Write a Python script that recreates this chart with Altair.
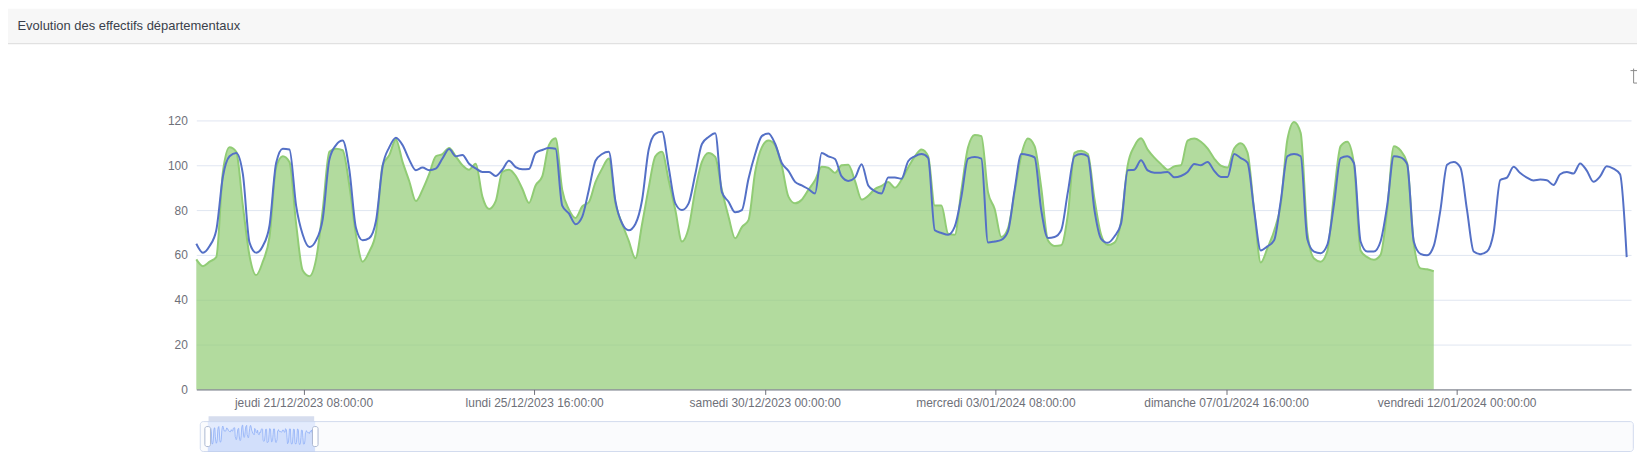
import altair as alt
import pandas as pd

TITLE = "Evolution des effectifs départementaux"
START = "2023-12-19 07:40"   # first sample, then one sample every 3 hours
STEP = "3h"

# Blue series (8 samples per day, 27 days)
blue = [
    65, 61, 64, 71, 95, 104, 105.5, 96,
    65.5, 61, 64, 73, 101, 107.4, 107, 82,
    69, 63.5, 66.5, 76, 102.5, 109, 111, 98,
    72, 66.5, 67.5, 75, 99.5, 108, 112.3, 109,
    102.5, 97.8, 99, 97.8, 98.5, 103, 107.2, 104,
    104.6, 100.7, 98.6, 97, 97, 95.2, 98, 102,
    99.2, 98.2, 98.3, 105.5, 106.8, 107.7, 107.4, 82,
    78.5, 73.7, 77, 89, 102, 105, 106, 84,
    74, 71, 73.8, 84.4, 107, 114, 115, 99,
    83, 80, 83, 96, 109.5, 112.6, 114.3, 88,
    83.7, 79, 80, 94, 105, 113, 114.2, 109.6,
    101, 97.5, 92.6, 91, 89.4, 87.4, 105.5, 104,
    102.8, 95, 93, 94.5, 100.5, 91, 88.5, 87.4,
    94.5, 94.5, 94, 101.8, 104, 105, 103.3, 71,
    69.8, 69, 72.6, 86, 103, 103.7, 103, 65.5,
    66, 66.7, 70.5, 89, 105, 104.6, 103.5, 80,
    67.6, 68, 71, 88, 104, 105, 104, 80,
    67.2, 65.4, 68.2, 74, 97.8, 98, 102.2, 97.7,
    96.7, 96.7, 97, 94.6, 95.2, 97, 100.6, 100,
    101.5, 97.5, 94.8, 94.8, 105, 103.2, 101.2, 80,
    62, 63.8, 66.5, 84, 104, 105, 104, 67,
    61.5, 60.8, 64.5, 82.5, 103.2, 104, 101, 66,
    61.5, 61.5, 66, 82, 104, 103.5, 100.5, 66,
    60.5, 59.8, 64, 80, 100.2, 101.4, 99, 80,
    61.5, 60.3, 61.5, 70, 93.4, 94.5, 99.3, 96.5,
    94.5, 93.2, 93.6, 93.3, 91.2, 96, 97, 96.3,
    100.8, 97.6, 92.6, 95, 99.6, 98.5, 96, 59,
]

# Green series (area), stops earlier
green = [
    58, 55, 57, 59, 97, 108, 106, 82,
    59.6, 51, 57, 68, 99, 104, 101.5, 74,
    53, 50.5, 58, 80, 106, 107.4, 106.7, 91,
    69, 57, 61.5, 70, 100, 104.5, 111.5, 101.5,
    93, 84, 89, 96, 104, 105, 107.7, 104,
    100, 98, 100.7, 86, 80.5, 84, 97, 98,
    95.3, 89.5, 83.2, 91, 95, 109, 112, 89,
    80.3, 76.5, 81.6, 83.5, 92.5, 98.5, 103, 83,
    74, 66.3, 58.5, 73.7, 90, 104, 106, 93.3,
    80, 66, 72, 89, 101.5, 105.5, 103.7, 89,
    77, 67.4, 72.4, 75.5, 97, 108, 111, 109,
    99.8, 86, 83, 84.6, 89, 93.3, 99.3, 98.9,
    96.6, 100, 100.2, 93, 84.7, 86.4, 89.4, 90.8,
    92.5, 90, 93.5, 99, 104, 107, 104, 82,
    82, 69.5, 69, 89, 108, 113.5, 113, 88,
    80.5, 68, 71.9, 88, 104.5, 111.9, 108.5, 90,
    66.5, 64, 64.3, 78, 105.5, 106.5, 105, 85,
    69, 64.4, 65.5, 75, 100, 108.5, 112, 107,
    103.4, 100.5, 98, 99.5, 100, 111, 111.9, 110.5,
    107.5, 103, 99.8, 99, 107.5, 109.8, 105.6, 80,
    56.6, 63, 70.7, 82.5, 111.5, 119.3, 114.4, 70,
    58.4, 57, 61.7, 87, 108.5, 110.5, 100.7, 62,
    59, 57.8, 60, 80, 108.5, 106.6, 101, 65,
    54, 53.6, 52.7,
]

y_ticks = [0, 20, 40, 60, 80, 100, 120]
x_ticks = [
    alt.DateTime(year=2023, month=12, date=21, hours=8),
    alt.DateTime(year=2023, month=12, date=25, hours=16),
    alt.DateTime(year=2023, month=12, date=30, hours=0),
    alt.DateTime(year=2024, month=1, date=3, hours=8),
    alt.DateTime(year=2024, month=1, date=7, hours=16),
    alt.DateTime(year=2024, month=1, date=12, hours=0),
]
x_domain = [
    alt.DateTime(year=2023, month=12, date=19, hours=7, minutes=40),
    alt.DateTime(year=2024, month=1, date=15, hours=6, minutes=37),
]

df_blue = pd.DataFrame({"t": pd.date_range(START, periods=len(blue), freq=STEP), "v": blue})
df_green = pd.DataFrame({"t": pd.date_range(START, periods=len(green), freq=STEP), "v": green})
one = pd.DataFrame({"label": [TITLE]})

W, H = 1440, 270
AXIS_C = "#6E7079"
FONT = "Liberation Sans"

label_expr = ("['dimanche','lundi','mardi','mercredi','jeudi','vendredi','samedi'][day(datum.value)]"
              " + ' ' + timeFormat(datum.value, '%d/%m/%Y %H:%M:%S')")

x_enc = alt.X("t:T", scale=alt.Scale(domain=x_domain),
              axis=alt.Axis(values=x_ticks, labelExpr=label_expr, title=None, grid=False,
                            domainColor=AXIS_C, tickColor=AXIS_C, tickSize=5,
                            labelColor=AXIS_C, labelFont=FONT, labelFontSize=12,
                            labelPadding=3, labelFlush=False, labelOverlap=False, zindex=1))
y_enc = alt.Y("v:Q", scale=alt.Scale(domain=[0, 120], nice=False), stack=None,
              axis=alt.Axis(values=y_ticks, title=None, domain=False, ticks=False,
                            gridColor="#E0E6F1", labelColor=AXIS_C, labelFont=FONT,
                            labelFontSize=12, labelPadding=9))

g_area = alt.Chart(df_green).mark_area(color="#91cc75", opacity=0.7, interpolate="monotone").encode(x=x_enc, y=y_enc)
g_line = alt.Chart(df_green).mark_line(color="#91cc75", strokeWidth=2, interpolate="monotone").encode(x="t:T", y="v:Q")
b_line = alt.Chart(df_blue).mark_line(color="#5470c6", strokeWidth=2, interpolate="monotone").encode(x="t:T", y="v:Q")
main = alt.layer(g_area, g_line, b_line)

# ---- header decoration ----
hdr = alt.Chart(one).mark_rect(color="#f7f7f7").encode(
    x=alt.value(-189), x2=alt.value(1460), y=alt.value(-112), y2=alt.value(-77))
hdr_line = alt.Chart(one).mark_rule(color="#dcdcdc", strokeWidth=1).encode(
    x=alt.value(-189), x2=alt.value(1460), y=alt.value(-77))
hdr_text = alt.Chart(one).mark_text(align="left", baseline="middle", font=FONT, fontSize=13,
                                    color="#3a3f4b").encode(
    x=alt.value(-179.5), y=alt.value(-95), text="label:N")
icon_c = "#8a8a8a"
icon1 = alt.Chart(one).mark_rule(color=icon_c, strokeWidth=1).encode(
    x=alt.value(1439.5), x2=alt.value(1447), y=alt.value(-50))
icon2 = alt.Chart(one).mark_rule(color=icon_c, strokeWidth=1).encode(
    x=alt.value(1442.6), y=alt.value(-52), y2=alt.value(-37.5))
icon3 = alt.Chart(one).mark_rule(color=icon_c, strokeWidth=1).encode(
    x=alt.value(1442.6), x2=alt.value(1447), y=alt.value(-37.5))

# ---- data zoom slider decoration ----
S_TOP, S_BOT = 302.3, 332.3
frame = alt.Chart(one).mark_rect(fill="#fafbfd", stroke="#d2dbee", strokeWidth=1, cornerRadius=3).encode(
    x=alt.value(4), x2=alt.value(1442.3), y=alt.value(S_TOP), y2=alt.value(S_BOT))
filler = alt.Chart(one).mark_rect(color="#87afff", opacity=0.2).encode(
    x=alt.value(11.6), x2=alt.value(119.3), y=alt.value(S_TOP), y2=alt.value(S_BOT))
move_bar = alt.Chart(one).mark_rect(color="#d6ddee").encode(
    x=alt.value(12.3), x2=alt.value(118.3), y=alt.value(297), y2=alt.value(302))
h_left = alt.Chart(one).mark_rect(fill="#ffffff", stroke="#ACB8D1", strokeWidth=1, cornerRadius=2).encode(
    x=alt.value(8.6), x2=alt.value(14.2), y=alt.value(307.3), y2=alt.value(327.3))
h_right = alt.Chart(one).mark_rect(fill="#ffffff", stroke="#ACB8D1", strokeWidth=1, cornerRadius=2).encode(
    x=alt.value(116.6), x2=alt.value(122.2), y=alt.value(307.3), y2=alt.value(327.3))

sx = alt.X("t:T", scale=alt.Scale(domain=x_domain, range=[11.6, 119.3]), axis=None)
sy = alt.Y("v:Q", scale=alt.Scale(domain=[40, 125], range=[S_BOT, S_TOP], nice=False, zero=False),
           axis=None, stack=None)
s_area = alt.Chart(df_blue).mark_area(color="#8fb0f7", opacity=0.2).encode(x=sx, y=sy, y2=alt.value(S_BOT))
s_line = alt.Chart(df_blue).mark_line(color="#8fb0f7", strokeWidth=0.8).encode(x="t:T", y="v:Q")
shadow = alt.layer(s_area, s_line)

chart = alt.layer(
    hdr, hdr_line, hdr_text, icon1, icon2, icon3,
    main,
    frame, filler, shadow, move_bar, h_left, h_right,
).resolve_scale(x="independent", y="independent").properties(
    width=W, height=H,
    padding={"left": 189, "top": 112, "right": 6, "bottom": 70},
    autosize=alt.AutoSizeParams(type="none"),
    background="#ffffff",
).configure_view(stroke=None)

chart.save("out.html", embed_options={"renderer": "svg", "actions": False})
